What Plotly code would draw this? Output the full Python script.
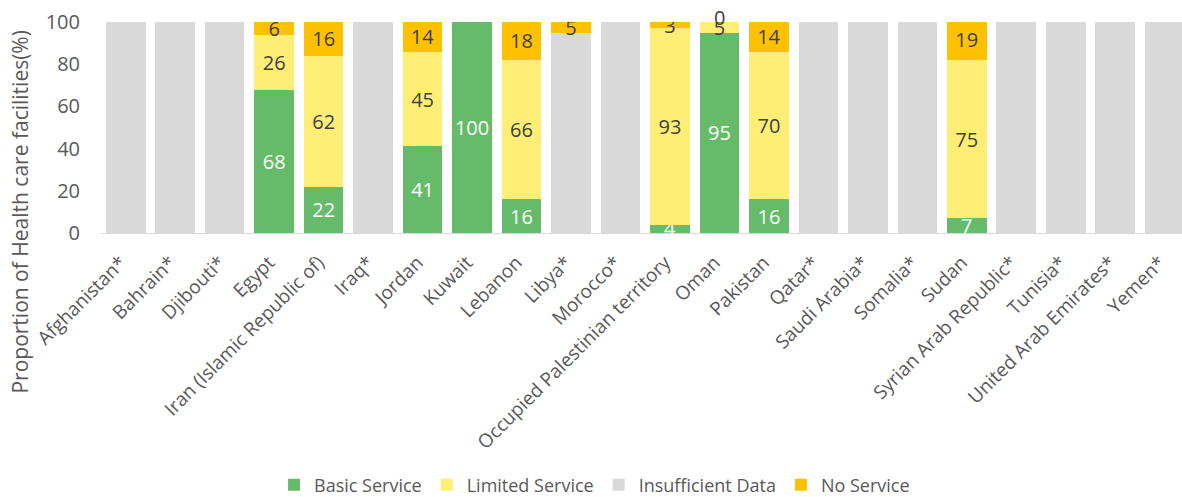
import plotly.graph_objects as go

categories = ["Afghanistan*", "Bahrain*", "Djibouti*", "Egypt", "Iran (Islamic Republic of)",
              "Iraq*", "Jordan", "Kuwait", "Lebanon", "Libya*", "Morocco*",
              "Occupied Palestinian territory", "Oman", "Pakistan", "Qatar*", "Saudi Arabia*",
              "Somalia*", "Sudan", "Syrian Arab Republic*", "Tunisia*", "United Arab Emirates*", "Yemen*"]

basic_service = [None, None, None, 68, 22, None, 41, 100, 16, None, None, 4, 95, 16,
                 None, None, None, 7, None, None, None, None]
limited_service = [None, None, None, 26, 62, None, 45, None, 66, None, None, 93, 5, 70,
                   None, None, None, 75, None, None, None, None]
insufficient_data = [100, 100, 100, None, None, 100, None, None, None, 95, 100, None, None, None,
                     100, 100, 100, None, 100, 100, 100, 100]
no_service = [None, None, None, 6, 16, None, 14, None, 18, 5, None, 3, 0, 14,
              None, None, None, 19, None, None, None, None]

y_ticks = [0, 20, 40, 60, 80, 100]

FONT = "Open Sans"
LABEL_SIZE = 20


def labels(vals):
    return ["" if (v is None or v == 0) else str(v) for v in vals]


def num(v):
    return 0 if v is None else v


series = [
    ("Basic Service", basic_service, "#66BB6A", "#FFFFFF", True),
    ("Limited Service", limited_service, "#FFEE75", "#404040", True),
    ("Insufficient Data", insufficient_data, "#D9D9D9", "#404040", False),
    ("No Service", no_service, "#FFC000", "#404040", True),
]

fig = go.Figure()
for name, vals, color, tcolor, show_text in series:
    fig.add_trace(go.Bar(
        name=name,
        x=categories,
        y=[num(v) for v in vals],
        marker=dict(color=color, line=dict(width=0)),
        text=labels(vals) if show_text else None,
        textposition="inside" if show_text else "none",
        insidetextanchor="middle",
        textangle=0,
        constraintext="none",
        textfont=dict(family=FONT, size=LABEL_SIZE, color=tcolor),
        hoverinfo="skip",
    ))

annotations = [dict(
    text="Proportion of Health care facilities(%)",
    xref="paper", yref="paper",
    x=(20 - 101) / 1081, y=(233.5 - 213) / 211.5,
    xanchor="center", yanchor="middle",
    textangle=-90,
    showarrow=False,
    font=dict(family=FONT, size=21, color="#595959"),
)]

# zero-valued "No Service" segments still carry a data label (drawn at the stack top)
for cat, b, l, i, n in zip(categories, basic_service, limited_service, insufficient_data, no_service):
    if n == 0:
        annotations.append(dict(
            text=str(n), x=cat, y=num(b) + num(l) + num(i) + n,
            xref="x", yref="y", showarrow=False, yshift=5,
            font=dict(family=FONT, size=LABEL_SIZE, color="#404040"),
        ))

fig.update_layout(
    barmode="stack",
    bargap=0.2,
    width=1182,
    height=497,
    margin=dict(l=101, r=0, t=22, b=263.5),
    paper_bgcolor="white",
    plot_bgcolor="white",
    font=dict(family=FONT, color="#595959"),
    uniformtext=dict(minsize=LABEL_SIZE, mode="show"),
    showlegend=True,
    legend=dict(
        orientation="h",
        xref="container", yref="container",
        x=0.503, xanchor="center",
        y=(497 - 485) / 497, yanchor="middle",
        font=dict(family=FONT, size=18, color="#595959"),
        itemwidth=30,
        traceorder="normal",
    ),
    xaxis=dict(
        type="category",
        range=[-0.5, 21.35],
        tickangle=-45,
        tickfont=dict(family=FONT, size=19, color="#595959"),
        showline=True,
        linecolor="#D9D9D9",
        linewidth=1,
        ticks="",
        showgrid=False,
        automargin=False,
        ticklabelshift=-5,
        ticklabelstandoff=10,
    ),
    yaxis=dict(
        range=[0, 100],
        tickvals=y_ticks,
        tickfont=dict(family=FONT, size=20, color="#595959"),
        showgrid=False,
        zeroline=False,
        showline=False,
        ticks="",
        automargin=False,
        ticklabelstandoff=20,
    ),
    annotations=annotations,
)

fig.write_html("out.html", config={"displayModeBar": False},
               post_script="document.body.style.margin='0';")
